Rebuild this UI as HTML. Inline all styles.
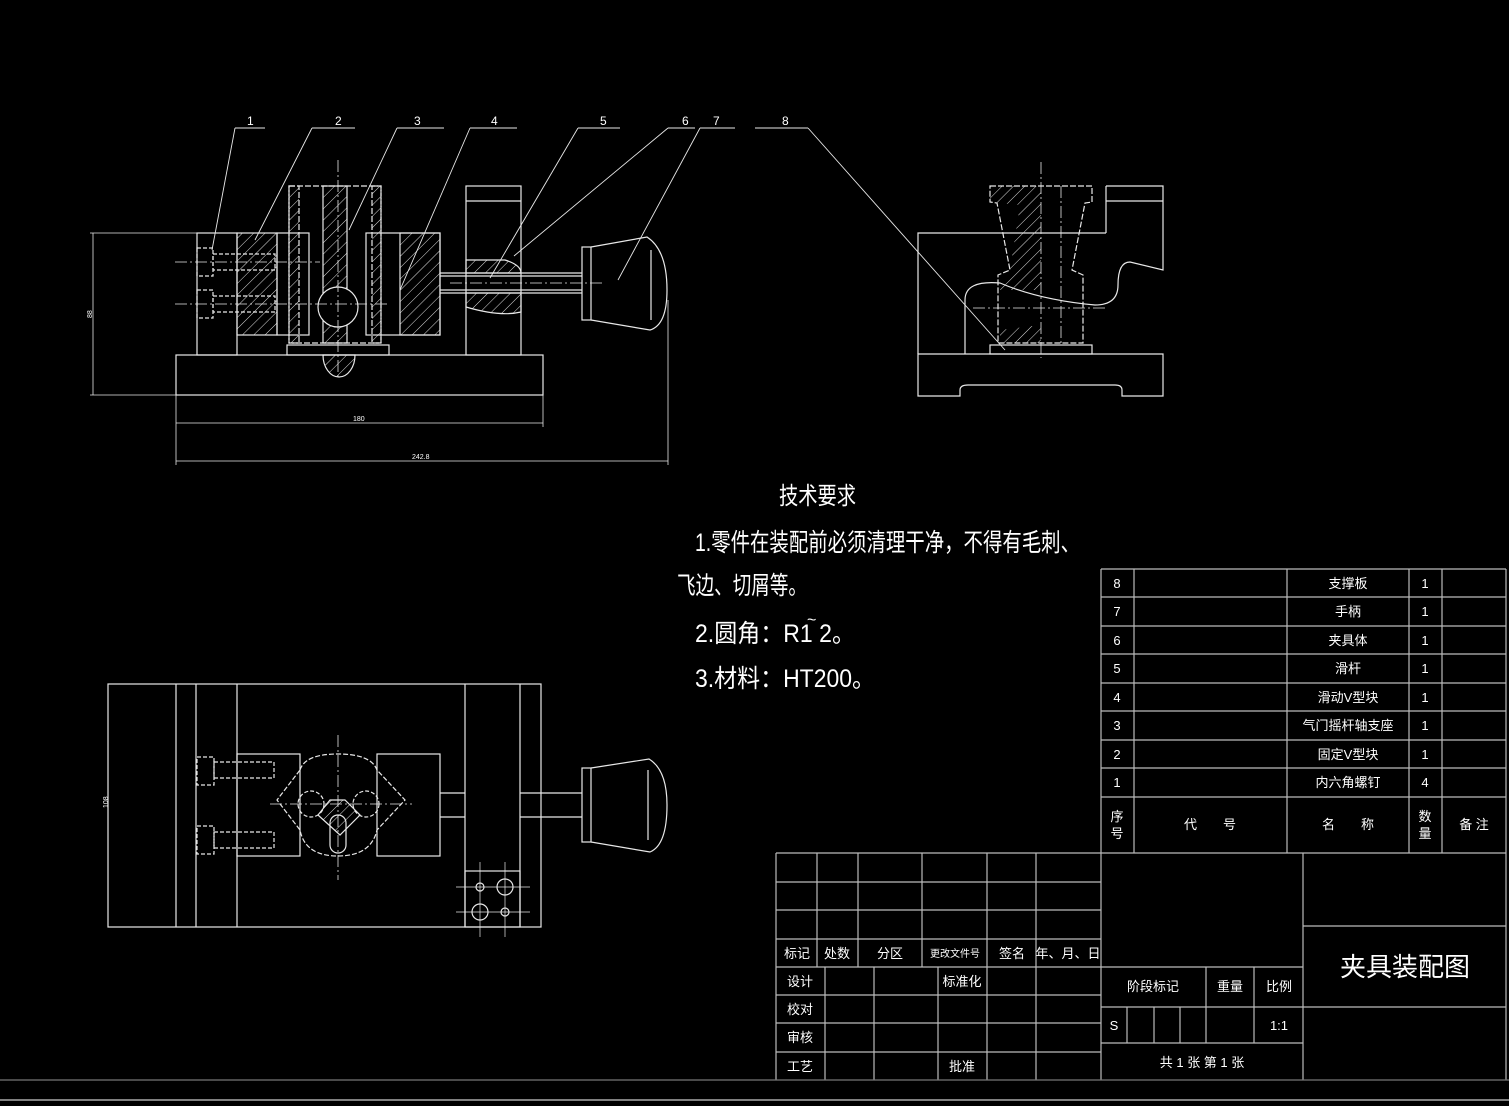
<!DOCTYPE html>
<html><head><meta charset="utf-8"><style>
html,body{margin:0;padding:0;background:#000;}
svg{display:block}
text{font-family:"Liberation Sans","Noto Sans CJK SC",sans-serif;fill:#fff}
</style></head><body>
<svg width="1509" height="1106" viewBox="0 0 1509 1106" xmlns="http://www.w3.org/2000/svg">
<defs>
<pattern id="h" width="8" height="8" patternUnits="userSpaceOnUse" patternTransform="rotate(45)">
<line x1="0" y1="0" x2="0" y2="8" stroke="#ddd" stroke-width="1"/>
</pattern>
</defs>
<rect width="1509" height="1106" fill="#000"/>
<g stroke="#e8e8e8" stroke-width="1.2" fill="none">
<!-- FRONT VIEW -->
<rect x="176" y="355" width="367" height="40"/>
<rect x="197" y="233" width="40" height="122"/>
<rect x="237" y="233" width="40" height="102" fill="url(#h)"/>
<rect x="277" y="233" width="32" height="102"/>
<rect x="289" y="186" width="92" height="157" stroke-dasharray="6,2"/>
<rect x="289" y="186" width="10" height="157" fill="url(#h)" stroke-dasharray="6,2"/>
<rect x="323" y="186" width="24" height="157" fill="url(#h)"/>
<rect x="372" y="186" width="9" height="157" fill="url(#h)" stroke-dasharray="6,2"/>
<rect x="366" y="233" width="74" height="102"/>
<rect x="400" y="233" width="40" height="102" fill="url(#h)"/>
<circle cx="338" cy="307" r="20" fill="#000"/>
<rect x="287" y="345" width="102" height="10"/>
<path d="M323 355 A16 22 0 0 0 355 355 Z" fill="url(#h)"/>
<rect x="466" y="186" width="55" height="169"/>
<line x1="466" y1="201" x2="521" y2="201"/>
<path d="M466 260 L505 260 Q521 265 521 273 L466 273 Z" fill="url(#h)"/>
<path d="M466 293 L521 293 L521 312 Q500 317 466 307 Z" fill="url(#h)"/>
<line x1="440" y1="273" x2="582" y2="273"/><line x1="440" y1="293" x2="582" y2="293"/>
<line x1="440" y1="276" x2="582" y2="276"/><line x1="440" y1="290" x2="582" y2="290"/>
<rect x="582" y="247" width="9" height="73"/>
<path d="M591 247 L647 237 Q667 250 667 290 Q667 325 650 330 L591 320"/>
<line x1="651" y1="250" x2="651" y2="320"/>
<!-- screws hidden -->
<g stroke-dasharray="4,2">
<rect x="197" y="248" width="16" height="28"/><rect x="213" y="254" width="62" height="16"/>
<rect x="197" y="290" width="16" height="28"/><rect x="213" y="296" width="62" height="16"/>
</g>
<g stroke-dasharray="12,3,2,3" stroke-width="0.8">
<line x1="175" y1="262" x2="320" y2="262"/><line x1="175" y1="304" x2="390" y2="304"/>
<line x1="338" y1="160" x2="338" y2="380"/><line x1="450" y1="283" x2="605" y2="283"/>
</g>
<!-- dims -->
<g stroke-width="0.8">
<line x1="93" y1="233" x2="93" y2="395"/><line x1="90" y1="233" x2="197" y2="233"/><line x1="90" y1="395" x2="176" y2="395"/>
<line x1="176" y1="395" x2="176" y2="465"/><line x1="543" y1="395" x2="543" y2="427"/><line x1="668" y1="300" x2="668" y2="465"/>
<line x1="176" y1="423" x2="543" y2="423"/><line x1="176" y1="461" x2="668" y2="461"/>
</g>
<!-- leaders -->
<g stroke-width="0.9">
<line x1="235" y1="128" x2="265" y2="128"/><line x1="235" y1="128" x2="212" y2="250"/>
<line x1="312" y1="128" x2="355" y2="128"/><line x1="312" y1="128" x2="255" y2="240"/>
<line x1="397" y1="128" x2="444" y2="128"/><line x1="397" y1="128" x2="349" y2="230"/>
<line x1="470" y1="128" x2="517" y2="128"/><line x1="470" y1="128" x2="400" y2="290"/>
<line x1="578" y1="128" x2="620" y2="128"/><line x1="578" y1="128" x2="490" y2="278"/>
<line x1="668" y1="128" x2="695" y2="128"/><line x1="668" y1="128" x2="514" y2="256"/>
<line x1="700" y1="128" x2="735" y2="128"/><line x1="700" y1="128" x2="618" y2="280"/>
<line x1="755" y1="128" x2="808" y2="128"/><line x1="808" y1="128" x2="1005" y2="350"/>
</g>
<!-- SIDE VIEW -->
<path d="M918 354 L1163 354 L1163 396 L1122 396 L1122 390 Q1122 385 1115 385 L968 385 Q960 385 960 390 L960 396 L918 396 Z"/>
<path d="M918 354 L918 233 L1106 233"/>
<path d="M1106 186 L1163 186 L1163 270 L1130 262 Q1118 262 1118 285 Q1118 305 1095 305 Q1040 300 1000 283 Q965 280 965 300 L965 354"/>
<line x1="1106" y1="186" x2="1106" y2="233"/><line x1="1106" y1="201" x2="1163" y2="201"/>
<path d="M990 186 L1092 186 L1092 202 L1085 203 L1072 270 L1083 275 L1083 343 L998 343 L998 275 L1010 270 L997 203 L990 202 Z" stroke-dasharray="6,2"/>
<path d="M990 186 L1041 186 L1041 343 L1000 343 L1000 330 L1041 325 L1041 290 L1000 290 L1010 270 L1020 205 L990 202 Z" fill="url(#h)" stroke="none"/>
<rect x="990" y="345" width="102" height="9"/>
<g stroke-dasharray="12,3,2,3" stroke-width="0.8"><line x1="1041" y1="162" x2="1041" y2="358"/><line x1="973" y1="308" x2="1106" y2="308"/><line x1="1061" y1="186" x2="1061" y2="343"/></g>
<!-- TOP VIEW -->
<rect x="108" y="684" width="433" height="243"/>
<line x1="176" y1="684" x2="176" y2="927"/><line x1="196" y1="684" x2="196" y2="927"/><line x1="237" y1="684" x2="237" y2="927"/>
<line x1="465" y1="684" x2="465" y2="927"/><line x1="520" y1="684" x2="520" y2="927"/>
<rect x="237" y="754" width="63" height="102"/><rect x="377" y="754" width="63" height="102"/>
<path d="M300 770 Q305 754 338 754 Q371 754 377 770 L405 800 L377 830 Q371 856 338 856 Q305 856 300 830 L277 800 Z" stroke-dasharray="5,2"/>
<circle cx="311" cy="804" r="13" stroke-dasharray="4,2"/><circle cx="366" cy="804" r="13" stroke-dasharray="4,2"/>
<path d="M318 815 L340 835 L360 815 L345 800 L330 800 Z" fill="url(#h)"/>
<rect x="330" y="815" width="16" height="38" rx="8"/>
<line x1="440" y1="793" x2="465" y2="793"/><line x1="440" y1="817" x2="465" y2="817"/>
<line x1="520" y1="793" x2="582" y2="793"/><line x1="520" y1="817" x2="582" y2="817"/>
<rect x="582" y="768" width="9" height="74"/>
<path d="M591 768 L649 759 Q667 770 667 805 Q667 845 650 852 L591 842"/>
<line x1="648" y1="770" x2="648" y2="840"/>
<g stroke-dasharray="4,2">
<rect x="197" y="757" width="17" height="28"/><rect x="214" y="762" width="60" height="16"/>
<rect x="197" y="826" width="17" height="28"/><rect x="214" y="832" width="60" height="16"/>
</g>
<g stroke-dasharray="12,3,2,3" stroke-width="0.8"><line x1="270" y1="804" x2="412" y2="804"/><line x1="338" y1="735" x2="338" y2="880"/></g>
<rect x="465" y="871" width="55" height="56"/>
<circle cx="480" cy="887" r="4"/><circle cx="505" cy="887" r="8"/><circle cx="480" cy="912" r="8"/><circle cx="505" cy="912" r="4"/>
<g stroke-width="0.7"><line x1="456" y1="887" x2="530" y2="887"/><line x1="456" y1="912" x2="530" y2="912"/><line x1="480" y1="862" x2="480" y2="937"/><line x1="505" y1="862" x2="505" y2="937"/></g>
<line x1="108" y1="684" x2="108" y2="927" stroke-width="0.8"/>
</g>
<!-- labels -->
<g font-size="12">
<text x="247" y="125">1</text><text x="335" y="125">2</text><text x="414" y="125">3</text><text x="491" y="125">4</text>
<text x="600" y="125">5</text><text x="682" y="125">6</text><text x="713" y="125">7</text><text x="782" y="125">8</text>
</g>
<g font-size="7"><text x="353" y="421">180</text><text x="412" y="459">242.8</text>
<text x="92" y="318" transform="rotate(-90 92 318)">88</text><text x="108" y="808" transform="rotate(-90 108 808)">108</text></g>
<!-- TECH REQUIREMENTS -->
<text x="779" y="504" font-size="24" textLength="77" lengthAdjust="spacingAndGlyphs">技术要求</text>
<text x="695" y="551" font-size="25" textLength="385" lengthAdjust="spacingAndGlyphs">1.零件在装配前必须清理干净，不得有毛刺、</text>
<text x="677" y="594" font-size="25" textLength="130" lengthAdjust="spacingAndGlyphs">飞边、切屑等。</text>
<text x="695" y="642" font-size="25" textLength="160" lengthAdjust="spacingAndGlyphs">2.圆角：R1 2。</text>
<text x="807" y="625" font-size="16">~</text>
<text x="695" y="687" font-size="25" textLength="180" lengthAdjust="spacingAndGlyphs">3.材料：HT200。</text>
<!-- TABLES -->
<g stroke="#bbb" stroke-width="1.2" fill="none">
<line x1="1101" y1="569" x2="1506" y2="569"/>
<line x1="1101" y1="597" x2="1506" y2="597"/><line x1="1101" y1="626" x2="1506" y2="626"/><line x1="1101" y1="654" x2="1506" y2="654"/>
<line x1="1101" y1="683" x2="1506" y2="683"/><line x1="1101" y1="711" x2="1506" y2="711"/><line x1="1101" y1="740" x2="1506" y2="740"/>
<line x1="1101" y1="768" x2="1506" y2="768"/><line x1="1101" y1="797" x2="1506" y2="797"/><line x1="776" y1="853" x2="1506" y2="853"/>
<line x1="1101" y1="569" x2="1101" y2="1080"/><line x1="1134" y1="569" x2="1134" y2="853"/><line x1="1287" y1="569" x2="1287" y2="853"/>
<line x1="1409" y1="569" x2="1409" y2="853"/><line x1="1442" y1="569" x2="1442" y2="853"/><line x1="1506" y1="569" x2="1506" y2="1080"/>
<line x1="776" y1="853" x2="776" y2="1080"/>
<line x1="776" y1="882" x2="1101" y2="882"/><line x1="776" y1="910" x2="1101" y2="910"/><line x1="776" y1="939" x2="1101" y2="939"/>
<line x1="776" y1="967" x2="1303" y2="967"/><line x1="776" y1="995" x2="1101" y2="995"/><line x1="776" y1="1023" x2="1101" y2="1023"/>
<line x1="776" y1="1052" x2="1101" y2="1052"/>
<line x1="817" y1="853" x2="817" y2="967"/><line x1="858" y1="853" x2="858" y2="967"/><line x1="922" y1="853" x2="922" y2="967"/>
<line x1="987" y1="853" x2="987" y2="1080"/><line x1="1036" y1="853" x2="1036" y2="1080"/>
<line x1="825" y1="967" x2="825" y2="1080"/><line x1="874" y1="967" x2="874" y2="1080"/><line x1="938" y1="967" x2="938" y2="1080"/>
<line x1="1303" y1="853" x2="1303" y2="1080"/><line x1="1303" y1="926" x2="1506" y2="926"/><line x1="1101" y1="1007" x2="1506" y2="1007"/>
<line x1="1101" y1="1043" x2="1303" y2="1043"/>
<line x1="1206" y1="967" x2="1206" y2="1043"/><line x1="1254" y1="967" x2="1254" y2="1043"/>
<line x1="1127" y1="1007" x2="1127" y2="1043"/><line x1="1154" y1="1007" x2="1154" y2="1043"/><line x1="1180" y1="1007" x2="1180" y2="1043"/>
<line x1="0" y1="1080" x2="1509" y2="1080" stroke="#777"/>
<line x1="0" y1="1100" x2="1509" y2="1100" stroke="#ccc"/>
</g>
<g font-size="13" text-anchor="middle">
<text x="1117" y="588">8</text><text x="1348" y="588">支撑板</text><text x="1425" y="588">1</text>
<text x="1117" y="616">7</text><text x="1348" y="616">手柄</text><text x="1425" y="616">1</text>
<text x="1117" y="645">6</text><text x="1348" y="645">夹具体</text><text x="1425" y="645">1</text>
<text x="1117" y="673">5</text><text x="1348" y="673">滑杆</text><text x="1425" y="673">1</text>
<text x="1117" y="702">4</text><text x="1348" y="702">滑动V型块</text><text x="1425" y="702">1</text>
<text x="1117" y="730">3</text><text x="1348" y="730">气门摇杆轴支座</text><text x="1425" y="730">1</text>
<text x="1117" y="759">2</text><text x="1348" y="759">固定V型块</text><text x="1425" y="759">1</text>
<text x="1117" y="787">1</text><text x="1348" y="787">内六角螺钉</text><text x="1425" y="787">4</text>
<text x="1117" y="821">序</text><text x="1117" y="838">号</text>
<text x="1210" y="829">代　　号</text><text x="1348" y="829">名　　称</text>
<text x="1425" y="821">数</text><text x="1425" y="838">量</text><text x="1474" y="829">备 注</text>
<text x="797" y="958">标记</text><text x="837" y="958">处数</text><text x="890" y="958">分区</text>
<text x="955" y="957" font-size="10">更改文件号</text><text x="1012" y="958">签名</text><text x="1068" y="958">年、月、日</text>
<text x="800" y="986">设计</text><text x="962" y="986">标准化</text>
<text x="800" y="1014">校对</text><text x="800" y="1042">审核</text><text x="800" y="1071">工艺</text><text x="962" y="1071">批准</text>
<text x="1153" y="991">阶段标记</text><text x="1230" y="991">重量</text><text x="1279" y="991">比例</text>
<text x="1114" y="1030">S</text><text x="1279" y="1030">1:1</text>
<text x="1202" y="1067">共 1 张  第 1 张</text>
<text x="1405" y="976" font-size="26">夹具装配图</text>
</g>
</svg>
</body></html>
